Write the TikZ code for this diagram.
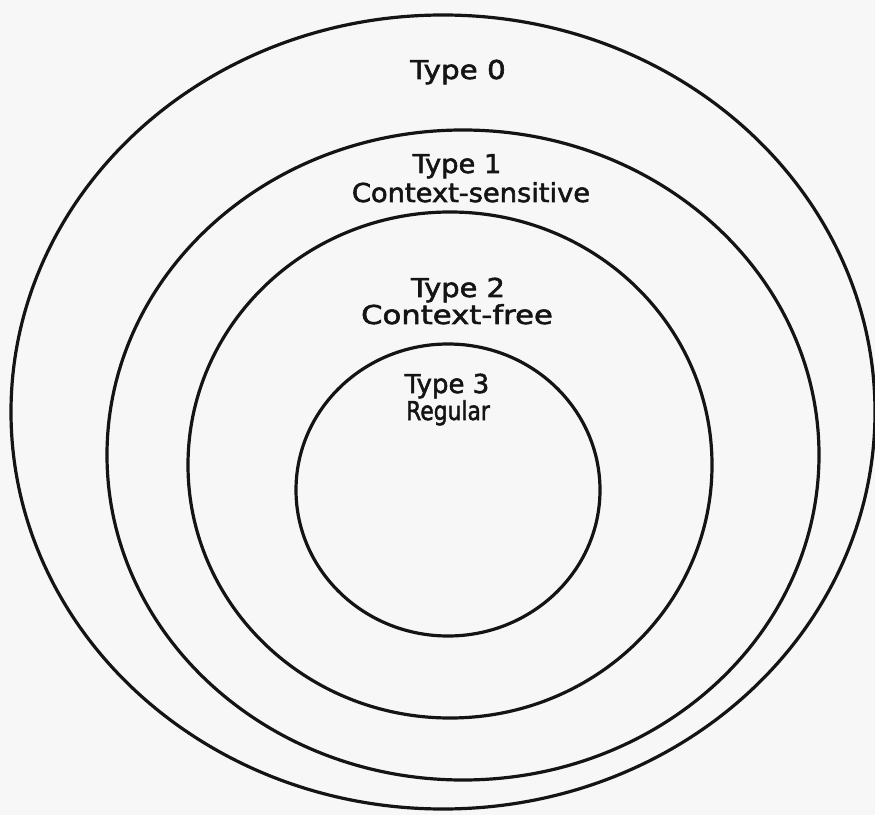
\documentclass[tikz,border=0pt]{standalone}
\usepackage{fontspec}
\newfontfamily\lblfont[FakeBold=2]{DejaVu Sans}
\begin{document}
\begin{tikzpicture}[x=1pt,y=1pt,
  ring/.style={draw=black!92, line width=3.2pt},
  lbl/.style={anchor=base, inner sep=0pt, font=\lblfont\fontsize{26}{30}\selectfont, text=black!92}]
\fill[black!3] (0,0) rectangle (875,815);
\useasboundingbox (0,0) rectangle (875,815);
\draw[ring] (443,403) ellipse [x radius=432, y radius=397];
\draw[ring] (463,360) ellipse [x radius=356, y radius=325];
\draw[ring] (450,350) ellipse [x radius=262, y radius=253];
\draw[ring] (448,325) ellipse [x radius=152, y radius=146];
\node[lbl] (t0) at (458,736) {\scalebox{1.13}[1]{Type 0}};
\node[lbl] (t1) at (457,642) {\scalebox{1.05}[1]{Type 1}};
\node[lbl] (c1) at (471,613) {\scalebox{1.05}[1]{Context-sensitive}};
\node[lbl] (t2) at (458,518) {\scalebox{1.11}[1]{Type 2}};
\node[lbl] (c2) at (457,491) {\scalebox{1.18}[1]{Context-free}};
\node[lbl] (t3) at (447,422) {\scalebox{1.0}[1]{Type 3}};
\node[lbl] (c3) at (448,395) {\scalebox{0.84}[1]{Regular}};
\end{tikzpicture}
\end{document}
